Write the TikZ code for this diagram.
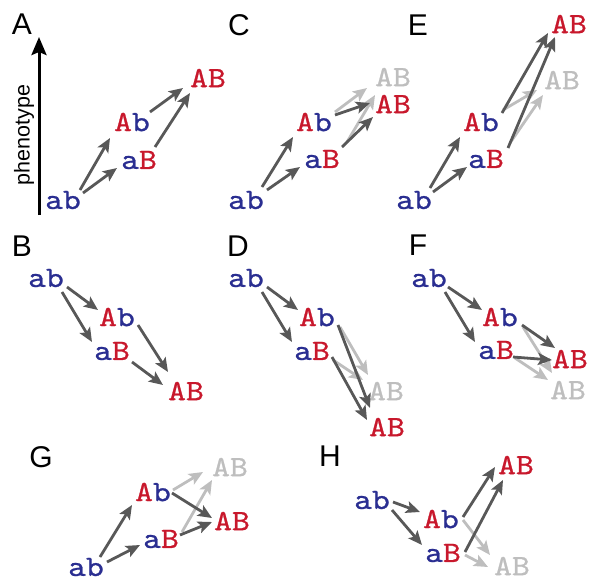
\documentclass[tikz,border=0pt]{standalone}
\usepackage{fontspec}
\setsansfont{Liberation Sans}
\newfontfamily\genofont{lmmono10-regular}[Extension=.otf,FakeStretch=1.15,FakeBold=0.8]
\usetikzlibrary{arrows.meta}
\definecolor{gblue}{RGB}{42,46,145}
\definecolor{gred}{RGB}{200,24,44}
\definecolor{arrdark}{RGB}{88,88,88}
\definecolor{arrlight}{RGB}{190,190,190}
\newcommand{\gtab}{\textcolor{gblue}{ab}}
\newcommand{\gtAb}{\textcolor{gred}{A}\textcolor{gblue}{b}}
\newcommand{\gtaB}{\textcolor{gblue}{a}\textcolor{gred}{B}}
\newcommand{\gtAB}{\textcolor{gred}{AB}}
\newcommand{\gtABg}{\textcolor{arrlight}{AB}}
\tikzset{
  gt/.style={inner sep=0pt, font=\genofont\fontsize{29.5}{30}\selectfont},
  lbl/.style={inner sep=0pt, font=\sffamily\fontsize{30}{32}\selectfont},
  dk/.style={draw=arrdark, line width=2.8pt, -{Stealth[length=14pt,width=12pt,inset=3pt]}},
  lt/.style={draw=arrlight, line width=2.8pt, -{Stealth[length=14pt,width=12pt,inset=3pt]}},
}
\begin{document}
\begin{tikzpicture}[x=1pt,y=-1pt]
\useasboundingbox (0,0) rectangle (590,582);

% ---------------- Panel A
\node[lbl] (A-lbl) at (22,24) {A};
\coordinate (ybot) at (39,215);
\coordinate (ytop) at (39,37);
\draw[line width=3pt, -{Stealth[length=18pt,width=15pt,inset=3pt]}] (ybot) -- (ytop);
\node[inner sep=0pt, font=\sffamily\fontsize{21.5}{22}\selectfont, rotate=90] (pheno) at (24,135) {phenotype};
\node[gt] (a-ab) at (63,200) {\gtab};
\node[gt] (a-Ab) at (132,122) {\gtAb};
\node[gt] (a-aB) at (139,160) {\gtaB};
\node[gt] (a-AB) at (208,78) {\gtAB};
\draw[dk] ([shift={(17,-10)}]a-ab.center) -- ([shift={(-22,16)}]a-Ab.center);
\draw[dk] ([shift={(20,-7)}]a-ab.center) -- ([shift={(-22,8)}]a-aB.center);
\draw[dk] ([shift={(18,-10)}]a-Ab.center) -- ([shift={(-25,10)}]a-AB.center);
\draw[dk] ([shift={(16,-13)}]a-aB.center) -- ([shift={(-18,15)}]a-AB.center);

% ---------------- Panel C
\node[lbl] (C-lbl) at (239,25) {C};
\node[gt] (c-ab) at (246,200) {\gtab};
\node[gt] (c-Ab) at (314,122) {\gtAb};
\node[gt] (c-aB) at (322,159) {\gtaB};
\node[gt] (c-ABg) at (393,77) {\gtABg};
\node[gt] (c-AB) at (393,104) {\gtAB};
\draw[lt] ([shift={(21,-10)}]c-Ab.center) -- ([shift={(-26,11)}]c-ABg.center);
\draw[lt] ([shift={(25,-17)}]c-aB.center) -- ([shift={(-18,18)}]c-ABg.center);
\draw[dk] ([shift={(16,-13)}]c-ab.center) -- ([shift={(-21,15)}]c-Ab.center);
\draw[dk] ([shift={(21,-10)}]c-ab.center) -- ([shift={(-22,8)}]c-aB.center);
\draw[dk] ([shift={(21,-7)}]c-Ab.center) -- ([shift={(-23,-1)}]c-AB.center);
\draw[dk] ([shift={(20,-12)}]c-aB.center) -- ([shift={(-20,13)}]c-AB.center);

% ---------------- Panel E
\node[lbl] (E-lbl) at (418,25) {E};
\node[gt] (e-ab) at (414,200) {\gtab};
\node[gt] (e-Ab) at (481,122) {\gtAb};
\node[gt] (e-aB) at (486,159) {\gtaB};
\node[gt] (e-AB) at (569,24) {\gtAB};
\node[gt] (e-ABg) at (562,80) {\gtABg};
\draw[lt] ([shift={(22,-12)}]e-Ab.center) -- ([shift={(-25,10)}]e-ABg.center);
\draw[lt] ([shift={(24,-16)}]e-aB.center) -- ([shift={(-19,15)}]e-ABg.center);
\draw[dk] ([shift={(16,-12)}]e-ab.center) -- ([shift={(-21,15)}]e-Ab.center);
\draw[dk] ([shift={(19,-8)}]e-ab.center) -- ([shift={(-19,8)}]e-aB.center);
\draw[dk] ([shift={(21,-9)}]e-Ab.center) -- ([shift={(-21,9)}]e-AB.center);
\draw[dk] ([shift={(22,-11)}]e-aB.center) -- ([shift={(-14,13)}]e-AB.center);

% ---------------- Panel B
\node[lbl] (B-lbl) at (22,246) {B};
\node[gt] (b-ab) at (46,278) {\gtab};
\node[gt] (b-Ab) at (117,317) {\gtAb};
\node[gt] (b-aB) at (112,351) {\gtaB};
\node[gt] (b-AB) at (186,391) {\gtAB};
\draw[dk] ([shift={(21,9)}]b-ab.center) -- ([shift={(-19,-7)}]b-Ab.center);
\draw[dk] ([shift={(16,14)}]b-ab.center) -- ([shift={(-20,-9)}]b-aB.center);
\draw[dk] ([shift={(21,8)}]b-Ab.center) -- ([shift={(-18,-19)}]b-AB.center);
\draw[dk] ([shift={(20,11)}]b-aB.center) -- ([shift={(-23,-6)}]b-AB.center);

% ---------------- Panel D
\node[lbl] (D-lbl) at (238,246) {D};
\node[gt] (d-ab) at (246,278) {\gtab};
\node[gt] (d-Ab) at (317,317) {\gtAb};
\node[gt] (d-aB) at (312,351) {\gtaB};
\node[gt] (d-ABg) at (386,391) {\gtABg};
\node[gt] (d-AB) at (387,427) {\gtAB};
\draw[lt] ([shift={(23,10)}]d-Ab.center) -- ([shift={(-18,-16)}]d-ABg.center);
\draw[lt] ([shift={(21,9)}]d-aB.center) -- ([shift={(-23,-11)}]d-ABg.center);
\draw[dk] ([shift={(21,9)}]d-ab.center) -- ([shift={(-19,-7)}]d-Ab.center);
\draw[dk] ([shift={(16,14)}]d-ab.center) -- ([shift={(-20,-9)}]d-aB.center);
\draw[dk] ([shift={(21,8)}]d-Ab.center) -- ([shift={(-17,-19)}]d-AB.center);
\draw[dk] ([shift={(20,6)}]d-aB.center) -- ([shift={(-20,-7)}]d-AB.center);

% ---------------- Panel F
\node[lbl] (F-lbl) at (418,245) {F};
\node[gt] (f-ab) at (429,278) {\gtab};
\node[gt] (f-Ab) at (500,317) {\gtAb};
\node[gt] (f-aB) at (496,350) {\gtaB};
\node[gt] (f-AB) at (570,359) {\gtAB};
\node[gt] (f-ABg) at (568,390) {\gtABg};
\draw[lt] ([shift={(23,10)}]f-Ab.center) -- ([shift={(-16,-17)}]f-ABg.center);
\draw[lt] ([shift={(19,8)}]f-aB.center) -- ([shift={(-20,-10)}]f-ABg.center);
\draw[dk] ([shift={(19,9)}]f-ab.center) -- ([shift={(-18,-7)}]f-Ab.center);
\draw[dk] ([shift={(16,14)}]f-ab.center) -- ([shift={(-21,-8)}]f-aB.center);
\draw[dk] ([shift={(22,8)}]f-Ab.center) -- ([shift={(-15,-11)}]f-AB.center);
\draw[dk] ([shift={(17,7)}]f-aB.center) -- ([shift={(-18,1)}]f-AB.center);

% ---------------- Panel G
\node[lbl] (G-lbl) at (41,457) {G};
\node[gt] (g-ab) at (86,567) {\gtab};
\node[gt] (g-Ab) at (153,492) {\gtAb};
\node[gt] (g-aB) at (161,539) {\gtaB};
\node[gt] (g-AB) at (232,521) {\gtAB};
\node[gt] (g-ABg) at (230,467) {\gtABg};
\draw[lt] ([shift={(20,-2)}]g-Ab.center) -- ([shift={(-27,5)}]g-ABg.center);
\draw[lt] ([shift={(21,-7)}]g-aB.center) -- ([shift={(-18,13)}]g-ABg.center);
\draw[dk] ([shift={(14,-10)}]g-ab.center) -- ([shift={(-21,13)}]g-Ab.center);
\draw[dk] ([shift={(21,-5)}]g-ab.center) -- ([shift={(-21,6)}]g-aB.center);
\draw[dk] ([shift={(19,1)}]g-Ab.center) -- ([shift={(-20,-3)}]g-AB.center);
\draw[dk] ([shift={(19,-4)}]g-aB.center) -- ([shift={(-20,1)}]g-AB.center);

% ---------------- Panel H
\node[lbl] (H-lbl) at (330,456) {H};
\node[gt] (h-ab) at (372,500) {\gtab};
\node[gt] (h-Ab) at (441,519) {\gtAb};
\node[gt] (h-aB) at (443,553) {\gtaB};
\node[gt] (h-AB) at (516,465) {\gtAB};
\node[gt] (h-ABg) at (512,566) {\gtABg};
\draw[lt] ([shift={(22,1)}]h-Ab.center) -- ([shift={(-22,-11)}]h-ABg.center);
\draw[lt] ([shift={(22,2)}]h-aB.center) -- ([shift={(-24,1)}]h-ABg.center);
\draw[dk] ([shift={(21,2)}]h-ab.center) -- ([shift={(-21,-7)}]h-Ab.center);
\draw[dk] ([shift={(20,10)}]h-ab.center) -- ([shift={(-21,-8)}]h-aB.center);
\draw[dk] ([shift={(22,-2)}]h-Ab.center) -- ([shift={(-21,2)}]h-AB.center);
\draw[dk] ([shift={(22,-1)}]h-aB.center) -- ([shift={(-13,15)}]h-AB.center);
\end{tikzpicture}
\end{document}
